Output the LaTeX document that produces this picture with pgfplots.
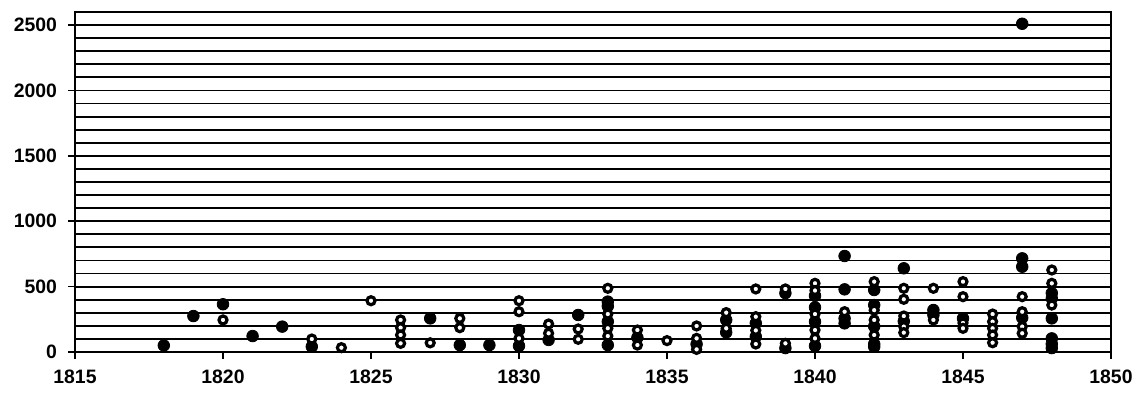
\documentclass[border=0pt]{standalone}
\usepackage{fontspec}
\setmainfont{Liberation Sans}
\usepackage{pgfplots}
\pgfplotsset{compat=1.18}
\begin{document}
\begin{tikzpicture}
\begin{axis}[
  at={(0,0)}, anchor=south west,
  scale only axis, width=518pt, height=170pt,
  xmin=1815, xmax=1850, ymin=0, ymax=2600,
  xtick={1815,1820,...,1850},
  ytick={0,500,...,2500},
  minor ytick={100,200,...,2500},
  ymajorgrids, yminorgrids,
  grid style={black, line width=0.9pt},
  minor grid style={black, line width=0.9pt},
  axis line style={black, line width=0.9pt},
  tick style={black, line width=0.8pt},
  major tick length=3.5pt,
  minor tick length=0pt,
  tick align=outside,
  xtick pos=bottom, ytick pos=left,
  /pgf/number format/1000 sep={},
  /pgf/number format/assume math mode=true,
  ticklabel style={font=\bfseries\fontsize{9.7}{11}\selectfont},
  yticklabel style={xshift=-2pt},
  xticklabel style={yshift=-2pt},
  clip=false,
]
\addplot[only marks, mark=*, mark size=2.9pt, black] coordinates {
(1818,50) (1819,275) (1820,365) (1821,122) (1822,194) (1823,41)
(1827,257) (1828,53) (1829,53) (1830,168) (1830,46) (1831,92)
(1832,283) (1833,385) (1833,350) (1833,232) (1833,53) (1834,110)
(1836,60) (1837,245) (1837,150) (1838,220) (1838,117)
(1839,450) (1839,30) (1840,430) (1840,341) (1840,232) (1840,46)
(1841,734) (1841,479) (1841,257) (1841,219)
(1842,474) (1842,359) (1842,196) (1842,61) (1842,40)
(1843,640) (1843,235) (1844,321) (1844,283) (1845,257)
(1847,2510) (1847,716) (1847,652) (1847,262)
(1848,450) (1848,410) (1848,257) (1848,104) (1848,61) (1848,30)
};
\addplot[only marks, mark=*, mark size=2pt, mark options={fill=white, draw=black, line width=1.6pt}] coordinates {
(1820,245) (1823,99) (1824,33) (1825,392)
(1826,245) (1826,186) (1826,130) (1826,66)
(1827,70) (1828,257) (1828,186)
(1830,392) (1830,308) (1830,104)
(1831,214) (1831,143) (1832,176) (1832,97)
(1833,487) (1833,290) (1833,181) (1833,122)
(1834,168) (1834,53) (1835,87)
(1836,199) (1836,104) (1836,20)
(1837,301) (1837,181)
(1838,482) (1838,270) (1838,165) (1838,61)
(1839,482) (1839,66)
(1840,525) (1840,470) (1840,290) (1840,168) (1840,104)
(1841,308)
(1842,538) (1842,320) (1842,245) (1842,130)
(1843,487) (1843,403) (1843,275) (1843,194) (1843,148)
(1844,487) (1844,245)
(1845,538) (1845,423) (1845,222) (1845,181)
(1846,290) (1846,232) (1846,181) (1846,130) (1846,71)
(1847,423) (1847,308) (1847,194) (1847,143)
(1848,627) (1848,525) (1848,359)
};
\end{axis}
\pgfresetboundingbox
\path[use as bounding box] (-37.5pt,-21pt) rectangle (531pt,176pt);
\end{tikzpicture}
\end{document}
